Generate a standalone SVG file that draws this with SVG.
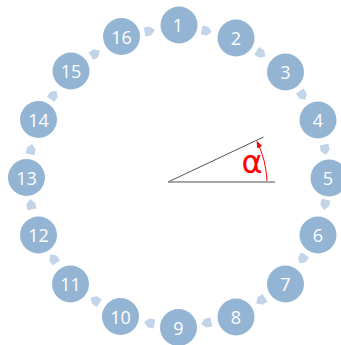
<svg xmlns="http://www.w3.org/2000/svg" width="341" height="345" viewBox="0 0 341 345">
<defs>
<style>
.n circle{fill:#94b4d3}
.n text{fill:#fff;font-family:"Open Sans","DejaVu Sans",sans-serif;font-size:18px;text-anchor:middle;dominant-baseline:central}
.a{fill:#c2d4e7}
</style>
<path id="ar" d="M-5,-4.5 L1,-4.5 L5.5,0 L1,4.5 L-5,4.5 Z"/>
<marker id="rh" viewBox="0 0 10 10" refX="9" refY="5" markerWidth="7" markerHeight="7" orient="auto"><path d="M0,1 L10,5 L0,9 Z" fill="#f00"/></marker>
</defs>
<rect width="341" height="345" fill="#fff"/>
<g id="connectors">
<use href="#ar" class="a" transform="translate(206.5,31) rotate(11.25)"/>
<use href="#ar" class="a" transform="translate(260.8,53.5) rotate(33.75)"/>
<use href="#ar" class="a" transform="translate(302.5,95.2) rotate(56.25)"/>
<use href="#ar" class="a" transform="translate(325,149.5) rotate(78.75)"/>
<use href="#ar" class="a" transform="translate(325,204.5) rotate(101.25)"/>
<use href="#ar" class="a" transform="translate(302.5,258.8) rotate(123.75)"/>
<use href="#ar" class="a" transform="translate(260.8,300.5) rotate(146.25)"/>
<use href="#ar" class="a" transform="translate(206.5,323) rotate(168.75)"/>
<use href="#ar" class="a" transform="translate(149.5,323) rotate(191.25)"/>
<use href="#ar" class="a" transform="translate(95.2,300.5) rotate(213.75)"/>
<use href="#ar" class="a" transform="translate(53.5,258.8) rotate(236.25)"/>
<use href="#ar" class="a" transform="translate(31,204.5) rotate(258.75)"/>
<use href="#ar" class="a" transform="translate(31,149.5) rotate(281.25)"/>
<use href="#ar" class="a" transform="translate(53.5,95.2) rotate(303.75)"/>
<use href="#ar" class="a" transform="translate(95.2,53.5) rotate(326.25)"/>
<use href="#ar" class="a" transform="translate(149.5,31) rotate(348.75)"/>
</g>
<g id="n1" class="n"><circle cx="179" cy="25" r="18.5"/><text x="178" y="25">1</text></g>
<g id="n2" class="n"><circle cx="236" cy="38" r="18.5"/><text x="236" y="38">2</text></g>
<g id="n3" class="n"><circle cx="285.5" cy="72" r="18.5"/><text x="285.5" y="72">3</text></g>
<g id="n4" class="n"><circle cx="318" cy="120" r="18.5"/><text x="318" y="120">4</text></g>
<g id="n5" class="n"><circle cx="329" cy="178" r="18.5"/><text x="328" y="178">5</text></g>
<g id="n6" class="n"><circle cx="318" cy="235" r="18.5"/><text x="318" y="235">6</text></g>
<g id="n7" class="n"><circle cx="285.5" cy="284" r="18.5"/><text x="285.5" y="284">7</text></g>
<g id="n8" class="n"><circle cx="236" cy="317" r="18.5"/><text x="236" y="317">8</text></g>
<g id="n9" class="n"><circle cx="178.5" cy="327.5" r="18.5"/><text x="178.5" y="327.5">9</text></g>
<g id="n10" class="n"><circle cx="120.5" cy="316.5" r="18.5"/><text x="120.5" y="316.5">10</text></g>
<g id="n11" class="n"><circle cx="70.5" cy="284" r="18.5"/><text x="70.5" y="284">11</text></g>
<g id="n12" class="n"><circle cx="38.5" cy="235" r="18.5"/><text x="38.5" y="235">12</text></g>
<g id="n13" class="n"><circle cx="26.5" cy="177.5" r="18.5"/><text x="26.5" y="177.5">13</text></g>
<g id="n14" class="n"><circle cx="38.5" cy="119.5" r="18.5"/><text x="38.5" y="119.5">14</text></g>
<g id="n15" class="n"><circle cx="71" cy="71" r="18.5"/><text x="71" y="71">15</text></g>
<g id="n16" class="n"><circle cx="121.5" cy="36.5" r="18.5"/><text x="121.5" y="36.5">16</text></g>
<g id="angle">
<line x1="168" y1="182" x2="263.5" y2="137" stroke="#555" stroke-width="1"/>
<line x1="168" y1="182" x2="275" y2="182" stroke="#8a8a8a" stroke-width="1.5"/>
<path d="M267,181 A99,99 0 0 0 257,141.5" fill="none" stroke="#f00" stroke-width="1" marker-end="url(#rh)"/>
<text x="252" y="173" fill="#f00" font-family="'DejaVu Sans',sans-serif" font-size="32" text-anchor="middle">α</text>
</g>
</svg>
